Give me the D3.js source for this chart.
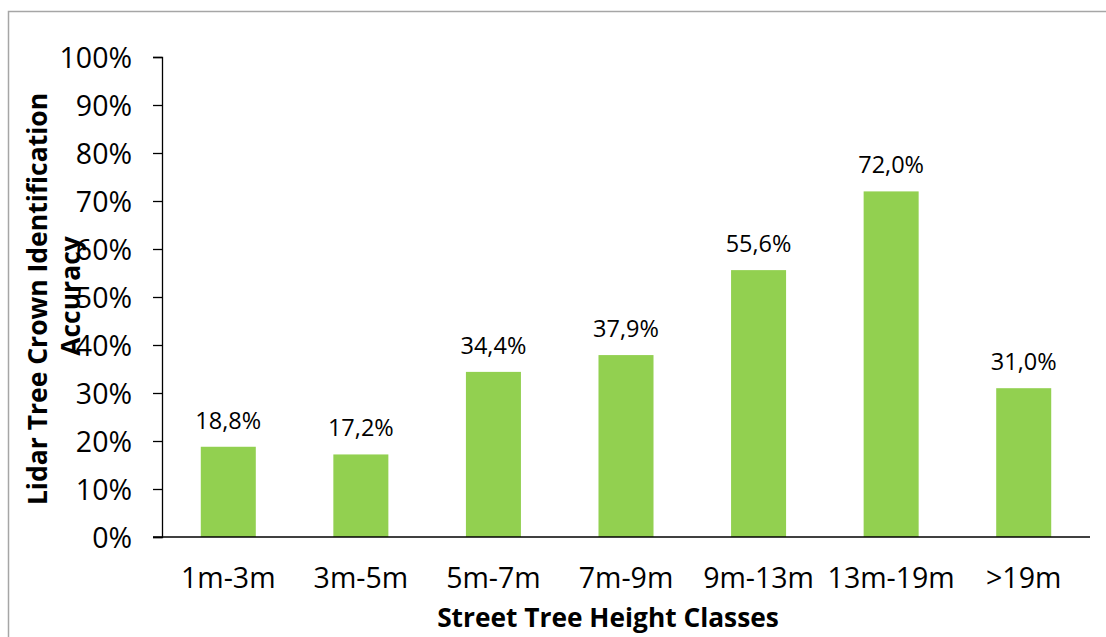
<!DOCTYPE html>
<html>
<head>
<meta charset="utf-8">
<script src="https://cdn.jsdelivr.net/npm/d3@7"></script>
<style>
  body { margin: 0; background: #fff; }
  svg { display: block; font-family: "Open Sans", sans-serif; }
</style>
</head>
<body>
<div id="chart"></div>
<script>
// Height classes and their crown identification accuracy (%).
const heightClasses = ["1m-3m", "3m-5m", "5m-7m", "7m-9m", "9m-13m", "13m-19m", ">19m"];
const accuracyValues = [18.8, 17.2, 34.4, 37.9, 55.6, 72.0, 31.0];
const yTickValues = [0, 10, 20, 30, 40, 50, 60, 70, 80, 90, 100];

const width = 1106;
const height = 637;

// Plot area.
let margin = {left: 162, right: 1090, top: 57, bottom: 537};

let svg = d3.select("#chart").append("svg")
    .attr("width", width)
    .attr("height", height);

// Chart frame (right and bottom edges fall outside the picture).
svg.append("rect")
    .attr("x", 8.5)
    .attr("y", 11.5)
    .attr("width", 1200)
    .attr("height", 800)
    .attr("fill", "none")
    .attr("stroke", "#a6a6a6")
    .attr("stroke-width", 1.5);

let x = d3.scaleBand()
    .domain(heightClasses)
    .range([margin.left, margin.right])
    .paddingInner(0.585)
    .paddingOuter(0.2925);

let y = d3.scaleLinear()
    .domain([0, 100])
    .range([margin.bottom, margin.top]);

// Bars.
svg.append("g")
    .selectAll("rect")
    .data(accuracyValues)
    .join("rect")
    .attr("x", (d, i) => x(heightClasses[i]))
    .attr("y", d => y(d))
    .attr("width", x.bandwidth())
    .attr("height", d => y(0) - y(d))
    .attr("fill", "#92d050");

// Y axis.
let yAxis = svg.append("g")
    .attr("transform", "translate(" + margin.left + ",0)")
    .call(d3.axisLeft(y)
        .tickValues(yTickValues)
        .tickSize(9)
        .tickPadding(21)
        .tickFormat(d => d + "%"));

yAxis.select(".domain").attr("stroke", "#000").attr("stroke-width", 1.3);
yAxis.selectAll(".tick line").attr("stroke", "#000").attr("stroke-width", 1.3);
yAxis.selectAll(".tick text")
    .attr("font-family", "Open Sans")
    .attr("font-size", 28.5)
    .attr("fill", "#000")
    .attr("dy", "0.36em");

// X axis (line only plus labels).
let xAxis = svg.append("g")
    .attr("transform", "translate(0," + margin.bottom + ")")
    .call(d3.axisBottom(x).tickSize(0).tickPadding(51));

xAxis.select(".domain")
    .attr("d", "M" + (margin.left - 9) + ",0H" + margin.right)
    .attr("stroke", "#000")
    .attr("stroke-width", 1.3);
xAxis.selectAll(".tick text")
    .attr("font-family", "Open Sans")
    .attr("font-size", 28.5)
    .attr("fill", "#000")
    .attr("dy", "0");

// Data labels.
svg.append("g")
    .selectAll("text")
    .data(accuracyValues)
    .join("text")
    .attr("x", (d, i) => x(heightClasses[i]) + x.bandwidth() / 2)
    .attr("y", d => y(d) - 18)
    .attr("text-anchor", "middle")
    .attr("font-size", 23.5)
    .attr("fill", "#000")
    .text(d => d.toFixed(1).replace(".", ",") + "%");

// Axis titles.
svg.append("text")
    .attr("x", 608)
    .attr("y", 627)
    .attr("text-anchor", "middle")
    .attr("font-size", 26.3)
    .attr("font-weight", "bold")
    .text("Street Tree Height Classes");

let yTitle = svg.append("text")
    .attr("transform", "rotate(-90)")
    .attr("text-anchor", "middle")
    .attr("font-size", 26.5)
    .attr("font-weight", "bold");

yTitle.append("tspan")
    .attr("x", -299)
    .attr("y", 47)
    .text("Lidar Tree Crown Identification");

yTitle.append("tspan")
    .attr("x", -296)
    .attr("y", 80)
    .text("Accuracy");
</script>
</body>
</html>
